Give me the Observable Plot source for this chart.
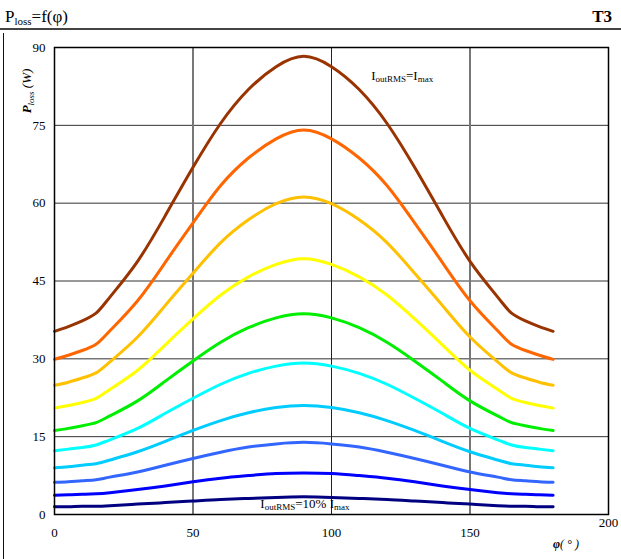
<!DOCTYPE html>
<html>
<head>
<meta charset="utf-8">
<script src="https://cdn.jsdelivr.net/npm/d3@7"></script>
<script src="https://cdn.jsdelivr.net/npm/@observablehq/plot@0.6"></script>
<style>
  html, body { margin: 0; padding: 0; background: #fff; }
  #chart svg { display: block; }
</style>
</head>
<body>
<div id="chart"></div>
<script>
// phase angle φ (°)
const phi = [0,5,10,15,20,30,40,50,60,70,80,90,100,110,120,130,140,150,160,165,170,175,180];

// P_loss (W) for output currents from I_max down to 10% I_max
const p100 = [35.3,36.2,37.3,38.8,41.9,48.8,57.6,66.9,75.4,81.9,86.3,88.3,86.3,81.9,75.4,66.9,57.6,48.8,41.9,38.8,37.3,36.2,35.3];
const p90  = [29.9,30.7,31.6,32.8,35.4,41.2,48.6,56.2,63.4,68.7,72.4,74.1,72.4,68.7,63.4,56.2,48.6,41.2,35.4,32.8,31.6,30.7,29.9];
const p80  = [24.9,25.5,26.3,27.3,29.4,34.2,40.3,46.5,52.4,56.8,59.9,61.2,59.9,56.8,52.4,46.5,40.3,34.2,29.4,27.3,26.3,25.5,24.9];
const p70  = [20.5,21.0,21.6,22.4,24.1,27.8,32.7,37.7,42.3,45.8,48.2,49.3,48.2,45.8,42.3,37.7,32.7,27.8,24.1,22.4,21.6,21.0,20.5];
const p60  = [16.2,16.6,17.1,17.7,19.0,21.9,25.7,29.6,33.2,36.0,37.9,38.7,37.9,36.0,33.2,29.6,25.7,21.9,19.0,17.7,17.1,16.6,16.2];
const p50  = [12.3,12.6,12.9,13.4,14.4,16.6,19.5,22.4,25.1,27.2,28.6,29.2,28.6,27.2,25.1,22.4,19.5,16.6,14.4,13.4,12.9,12.6,12.3];
const p40  = [9.0,9.2,9.5,9.8,10.5,12.1,14.1,16.2,18.1,19.6,20.6,21.0,20.6,19.6,18.1,16.2,14.1,12.1,10.5,9.8,9.5,9.2,9.0];
const p30  = [6.2,6.3,6.5,6.7,7.2,8.2,9.5,10.8,12.0,13.0,13.6,13.9,13.6,13.0,12.0,10.8,9.5,8.2,7.2,6.7,6.5,6.3,6.2];
const p20  = [3.7,3.8,3.9,4.0,4.2,4.8,5.5,6.3,7.0,7.5,7.9,8.0,7.9,7.5,7.0,6.3,5.5,4.8,4.2,4.0,3.9,3.8,3.7];
const p10  = [1.5,1.5,1.6,1.6,1.7,2.0,2.3,2.6,2.9,3.1,3.3,3.4,3.3,3.1,2.9,2.6,2.3,2.0,1.7,1.6,1.6,1.5,1.5];

const seriesNames  = ["100%","90%","80%","70%","60%","50%","40%","30%","20%","10%"];
const seriesValues = [p100, p90, p80, p70, p60, p50, p40, p30, p20, p10];
const seriesColors = ["#993300","#FF6600","#FFC000","#FFFF00","#00EE00","#00FFFF","#00CCFF","#3366FF","#0000FF","#000080"];

const xTicks = [0, 50, 100, 150];
const xLastTick = [200];
const yTicks = [0, 15, 30, 45, 60, 75, 90];

const rows = [];
seriesNames.forEach((name, i) => {
  phi.forEach((x, j) => rows.push({series: name, phi: x, p: seriesValues[i][j]}));
});

const W = 621, H = 559;
const plot = Plot.plot({
  width: W, height: H,
  marginLeft: 54, marginRight: 13, marginTop: 47, marginBottom: 45,
  style: {fontFamily: "Liberation Serif", fontSize: "13px", color: "#000", background: "#fff"},
  x: {domain: [0, 200]},
  y: {domain: [0, 90]},
  color: {domain: seriesNames, range: seriesColors},
  marks: [
    Plot.gridY(yTicks.filter(d => d > 0 && d < 90), {stroke: "#333", strokeOpacity: 1, strokeWidth: 1}),
    Plot.gridX([50, 150], {stroke: "#777", strokeOpacity: 1, strokeWidth: 2}),
    Plot.gridX([100], {stroke: "#222", strokeOpacity: 1, strokeWidth: 1}),
    Plot.axisY({ticks: yTicks, tickSize: 0, tickPadding: 9, label: null, fontSize: 13}),
    Plot.axisX({ticks: xTicks, tickSize: 0, tickPadding: 13, label: null, fontSize: 13}),
    Plot.axisX({ticks: xLastTick, tickSize: 0, tickPadding: 3, label: null, fontSize: 13}),
    Plot.line(rows, {x: "phi", y: "p", z: "series", stroke: "series", strokeWidth: 3, curve: "natural"}),
    Plot.frame({stroke: "#000", strokeWidth: 1.5})
  ]
});
document.getElementById("chart").appendChild(plot);

const svg = d3.select(plot);
const sx = plot.scale("x"), sy = plot.scale("y");
const serif = "Liberation Serif";

// header rule and left frame
svg.append("line").attr("x1", 0).attr("x2", W).attr("y1", 29).attr("y2", 29)
  .attr("stroke", "#444").attr("stroke-width", 2);
svg.append("line").attr("x1", 3.5).attr("x2", 3.5).attr("y1", 33).attr("y2", H)
  .attr("stroke", "#111").attr("stroke-width", 1);

// title
const t = svg.append("text").attr("x", 5).attr("y", 22).attr("text-anchor", "start")
  .attr("font-family", serif).attr("font-size", 17).attr("fill", "#000");
t.append("tspan").text("P");
t.append("tspan").attr("font-size", 11).attr("dy", 3).text("loss");
t.append("tspan").attr("dy", -3).text("=f(φ)");

svg.append("text").attr("x", 612).attr("y", 22).attr("text-anchor", "end")
  .attr("font-family", serif).attr("font-size", 17).attr("font-weight", "bold")
  .attr("fill", "#000").text("T3");

// y-axis label
const yl = svg.append("text").attr("transform", "translate(31,91) rotate(-90)")
  .attr("text-anchor", "middle").attr("font-family", serif)
  .attr("font-size", 13).attr("font-style", "italic").attr("font-weight", "bold").attr("fill", "#000");
yl.append("tspan").text("P");
yl.append("tspan").attr("font-size", 9).attr("dy", 3).attr("font-weight", "normal").text("loss");
yl.append("tspan").attr("dy", -3).attr("font-weight", "normal").text(" (W)");

// x-axis label
const xl = svg.append("text").attr("x", 566).attr("y", 548).attr("text-anchor", "middle")
  .attr("font-family", serif).attr("font-size", 12).attr("font-style", "italic")
  .attr("font-weight", "bold").attr("fill", "#000");
xl.append("tspan").text("φ");
xl.append("tspan").attr("font-weight", "normal").text("( ° )");

// annotations
function annot(xv, yv, main, sub1, mid, sub2) {
  const a = svg.append("text").attr("x", sx.apply(xv)).attr("y", sy.apply(yv))
    .attr("text-anchor", "start")
    .attr("font-family", serif).attr("font-size", 13).attr("fill", "#000");
  a.append("tspan").text(main);
  a.append("tspan").attr("font-size", 9).attr("dy", 2).text(sub1);
  a.append("tspan").attr("dy", -2).text(mid);
  a.append("tspan").attr("font-size", 9).attr("dy", 2).text(sub2);
}
annot(114.5, 83.6, "I", "outRMS", "=I", "max");
annot(74.5, 1.2, "I", "outRMS", "=10% I", "max");
</script>
</body>
</html>
